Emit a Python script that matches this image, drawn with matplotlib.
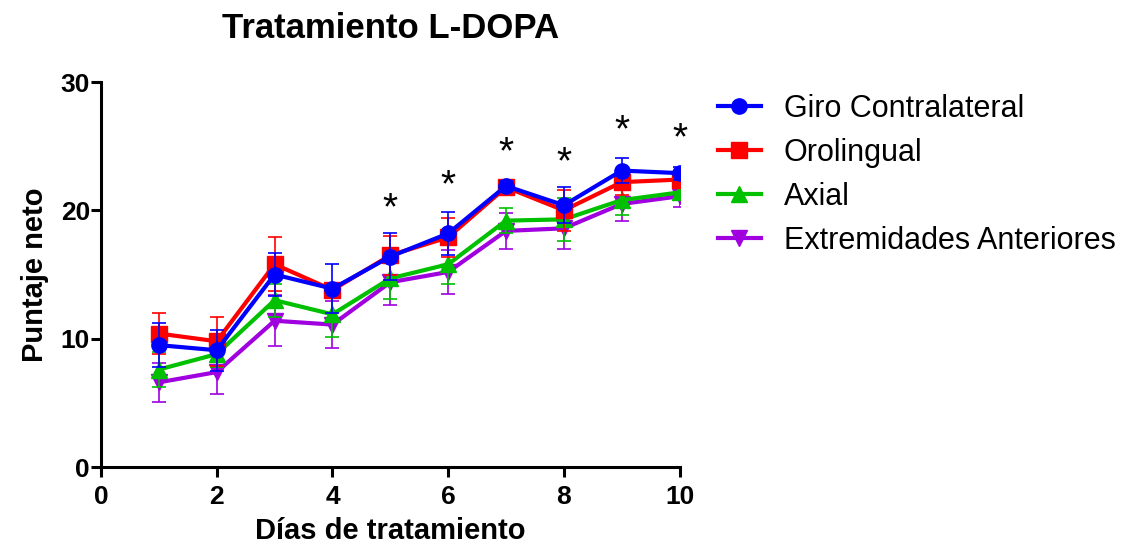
import numpy as np
import matplotlib.pyplot as plt
from matplotlib.lines import Line2D

plt.rcParams['font.family'] = ['Liberation Sans', 'DejaVu Sans']

dias = [1, 2, 3, 4, 5, 6, 7, 8, 9, 10]

giro = [9.5, 9.1, 15.0, 13.9, 16.4, 18.2, 21.9, 20.4, 23.1, 22.9]
giro_err = [1.7, 1.6, 1.7, 1.9, 1.8, 1.7, 0.4, 1.4, 0.95, 0.5]

orolingual = [10.4, 9.8, 15.8, 13.8, 16.5, 17.9, 21.8, 20.0, 22.2, 22.4]
orolingual_err = [1.6, 1.9, 2.1, 0.5, 1.5, 1.5, 0.4, 1.6, 1.0, 0.5]

axial = [7.6, 8.8, 13.0, 11.9, 14.7, 15.8, 19.2, 19.3, 20.8, 21.4]
axial_err = [1.4, 1.0, 1.3, 1.8, 1.6, 1.5, 1.0, 1.7, 1.2, 0.5]

extremidades = [6.6, 7.4, 11.4, 11.1, 14.4, 15.2, 18.4, 18.6, 20.5, 21.1]
extremidades_err = [1.5, 1.7, 2.0, 1.8, 1.8, 1.7, 1.4, 1.6, 1.3, 0.8]

# centros de los asteriscos
asterisco_x = [5, 6, 7, 8, 9, 10]
asterisco_y = [20.6, 22.4, 25.0, 24.2, 26.7, 26.1]

series = [
    ('Giro Contralateral', giro, giro_err, '#0000FF', 'o', 6),
    ('Orolingual', orolingual, orolingual_err, '#FF0000', 's', 5),
    ('Axial', axial, axial_err, '#00C000', '^', 4),
    ('Extremidades Anteriores', extremidades, extremidades_err, '#A000E0', 'v', 3),
]

fig = plt.figure(figsize=(11.3, 5.58), dpi=100)
ax = fig.add_axes([0.0894, 0.163, 0.512, 0.69])

handles = []
for label, y, err, color, marker, z in series:
    ax.errorbar(dias, y, yerr=err, marker=marker, markersize=11, linewidth=3,
                color=color, ecolor=color, elinewidth=1.2, capsize=5, capthick=1.2,
                zorder=z)
    handles.append(Line2D([], [], color=color, marker=marker, markersize=11,
                          linewidth=3, label=label))

for xs, ys in zip(asterisco_x, asterisco_y):
    ax.annotate('*', (xs, ys), xytext=(0, -5), textcoords='offset points',
                ha='center', va='center', fontsize=28, color='black')

ax.set_xlim(0, 10)
ax.set_ylim(0, 30)
ax.set_xticks([0, 2, 4, 6, 8, 10])
ax.set_yticks([0, 10, 20, 30])
for s in ['top', 'right']:
    ax.spines[s].set_visible(False)
for s in ['left', 'bottom']:
    ax.spines[s].set_linewidth(2.2)
ax.tick_params(width=2.2, length=7, labelsize=19)
ax.tick_params(axis='x', pad=6)
ax.tick_params(axis='y', pad=1)
for t in ax.get_xticklabels() + ax.get_yticklabels():
    t.set_fontweight('bold')

ax.set_xlabel('Días de tratamiento', fontsize=21, fontweight='bold', labelpad=6)
ax.set_ylabel('Puntaje neto', fontsize=21, fontweight='bold', labelpad=8)
ax.set_title('Tratamiento L-DOPA', fontsize=25, fontweight='bold', pad=32)

fig.legend(handles=handles, loc='upper left', bbox_to_anchor=(718 / 1130, 1 - 94 / 558),
           frameon=False, fontsize=22, borderpad=0, borderaxespad=0,
           handlelength=1.4, labelspacing=0.46, handletextpad=0.75)

fig.savefig('out.png', dpi=100)
